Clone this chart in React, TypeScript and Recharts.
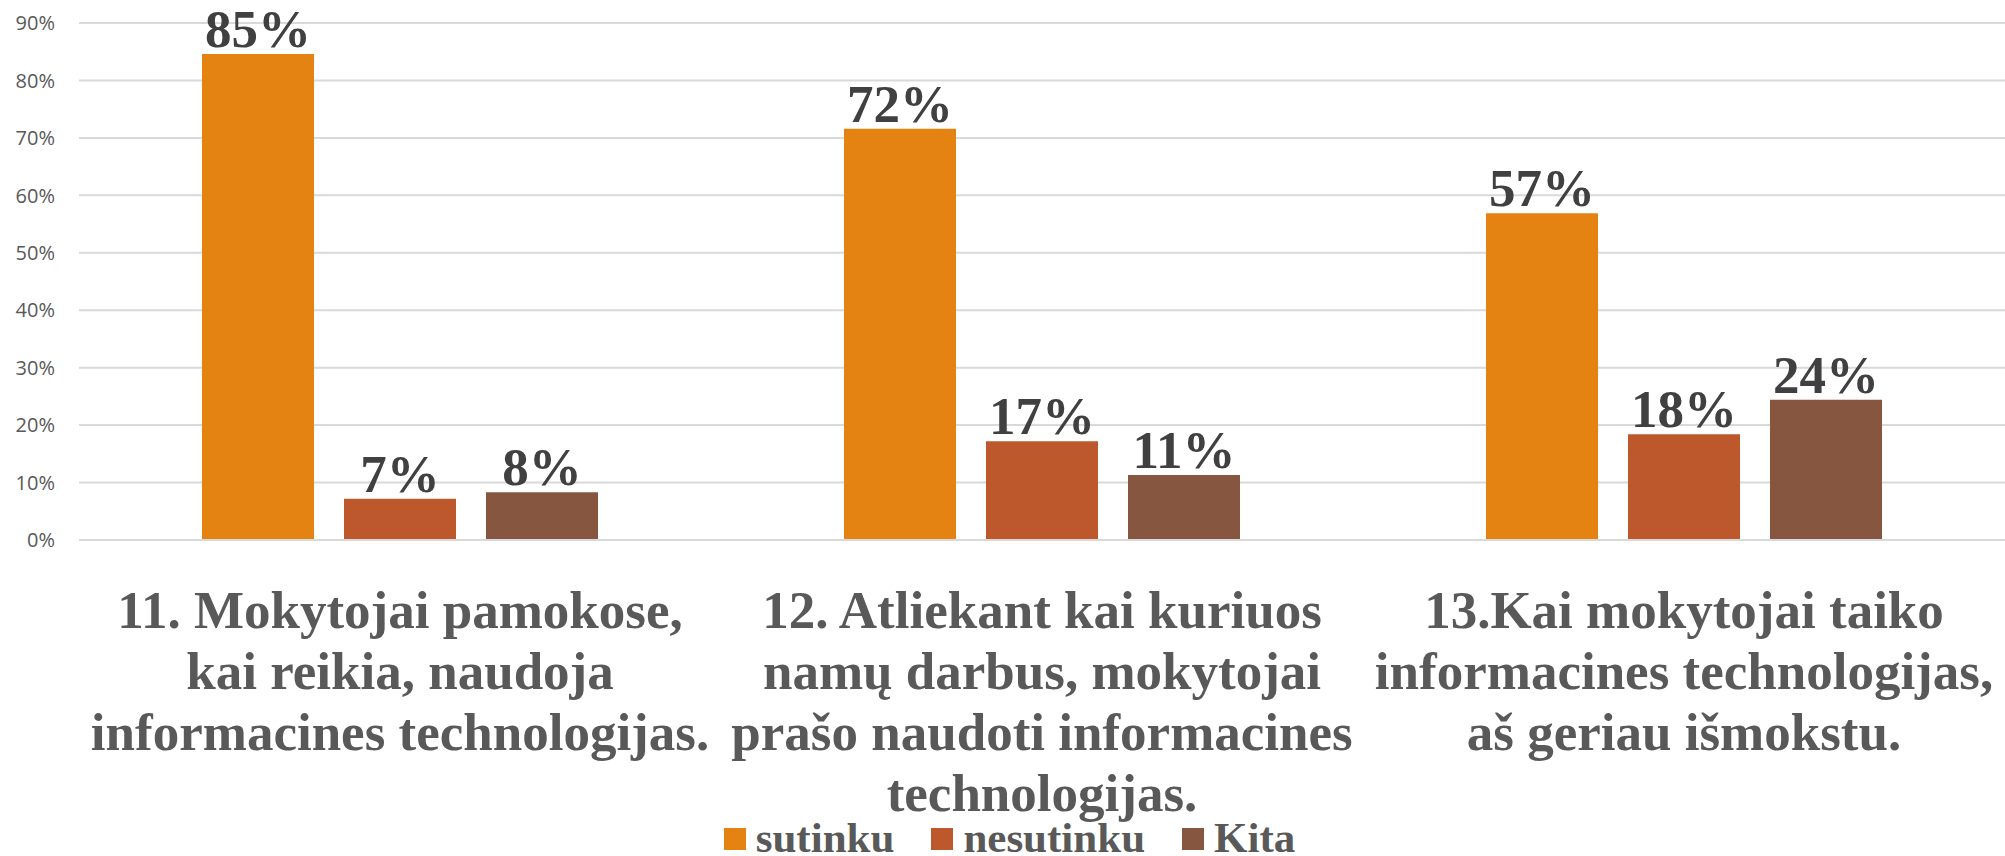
import React from "react";
import { BarChart, Bar, XAxis, YAxis, CartesianGrid, LabelList, Legend } from "recharts";

const categoryLines: string[][] = [
  ["11. Mokytojai pamokose,", "kai reikia, naudoja", "informacines technologijas."],
  ["12. Atliekant kai kuriuos", "namų darbus, mokytojai", "prašo naudoti informacines", "technologijas."],
  ["13.Kai mokytojai taiko", "informacines technologijas,", "aš geriau išmokstu."],
];
const categories: string[] = categoryLines.map((l) => l.join(" "));
const sutinku: number[] = [0.846, 0.716, 0.569];
const nesutinku: number[] = [0.072, 0.172, 0.184];
const kita: number[] = [0.083, 0.113, 0.244];
const yTicks: number[] = [0, 0.1, 0.2, 0.3, 0.4, 0.5, 0.6, 0.7, 0.8, 0.9];

const seriesNames = ["sutinku", "nesutinku", "Kita"];
const seriesColors = ["#E48312", "#BD582C", "#865640"];

const data = categories.map((name, i) => ({
  name,
  idx: i,
  sutinku: sutinku[i],
  nesutinku: nesutinku[i],
  Kita: kita[i],
}));

const pct = (v: number) => `${Math.round(v * 100)}%`;

const XTick = (props: any) => {
  const { x, y, payload } = props;
  const idx = categories.indexOf(payload.value);
  const lines = idx >= 0 ? categoryLines[idx] : [String(payload.value)];
  return (
    <text
      x={x}
      y={y}
      textAnchor="middle"
      fontFamily="'Liberation Serif', 'Times New Roman', serif"
      fontWeight="bold"
      fontSize={53}
      fill="#595959"
    >
      {lines.map((ln, i) => (
        <tspan key={i} x={x} dy={i === 0 ? 80 : 61}>
          {ln}
        </tspan>
      ))}
    </text>
  );
};

const YTick = (props: any) => {
  const { x, y, payload } = props;
  return (
    <text x={x} y={y} dy="0.36em" textAnchor="end" fontFamily="'Open Sans', sans-serif" fontSize={20} fill="#595959">
      {pct(payload.value)}
    </text>
  );
};

const LegendContent = () => (
  <div
    style={{
      display: "flex",
      justifyContent: "center",
      alignItems: "flex-start",
      height: 40,
      width: 2005,
      fontFamily: "'Liberation Serif', 'Times New Roman', serif",
      fontWeight: "bold",
      fontSize: 43,
      color: "#595959",
      lineHeight: "40px",
      paddingLeft: 14,
      boxSizing: "border-box",
    }}
  >
    {seriesNames.map((n, i) => (
      <div key={n} style={{ display: "flex", alignItems: "flex-start", marginLeft: i === 0 ? 0 : 37 }}>
        <div style={{ width: 22, height: 22, background: seriesColors[i], marginRight: 10, marginTop: 12 }} />
        <span style={{ display: "block", height: 40, marginTop: 2 }}>{n}</span>
      </div>
    ))}
  </div>
);

export default function App() {
  return (
    <div style={{ position: "absolute", left: 0, top: 0, width: 2005, height: 856, background: "#fff", overflow: "hidden" }}>
      <BarChart
        width={2005}
        height={856}
        data={data}
        margin={{ top: 23, right: 0, left: 0, bottom: 0 }}
        barSize={112}
        barGap={30}
      >
        <CartesianGrid vertical={false} stroke="#d9d9d9" strokeWidth={2} />
        <XAxis
          dataKey="name"
          height={276}
          tickLine={false}
          axisLine={{ stroke: "#d9d9d9", strokeWidth: 2 }}
          tick={<XTick />}
          interval={0}
        />
        <YAxis
          width={79}
          domain={[0, 0.9]}
          ticks={yTicks}
          axisLine={false}
          tickLine={false}
          tickSize={0}
          tickMargin={24}
          tick={<YTick />}
        />
        <Legend verticalAlign="bottom" height={40} content={<LegendContent />} wrapperStyle={{ left: 0, width: 2005 }} />
        {seriesNames.map((n, i) => (
          <Bar key={n} dataKey={n} fill={seriesColors[i]} isAnimationActive={false}>
            <LabelList
              dataKey={n}
              position="top"
              offset={7}
              formatter={(v: any) => pct(Number(v))}
              style={{
                fontFamily: "'Liberation Serif', 'Times New Roman', serif",
                fontWeight: "bold",
                fontSize: 53,
                fill: "#404040",
              }}
            />
          </Bar>
        ))}
      </BarChart>
    </div>
  );
}
